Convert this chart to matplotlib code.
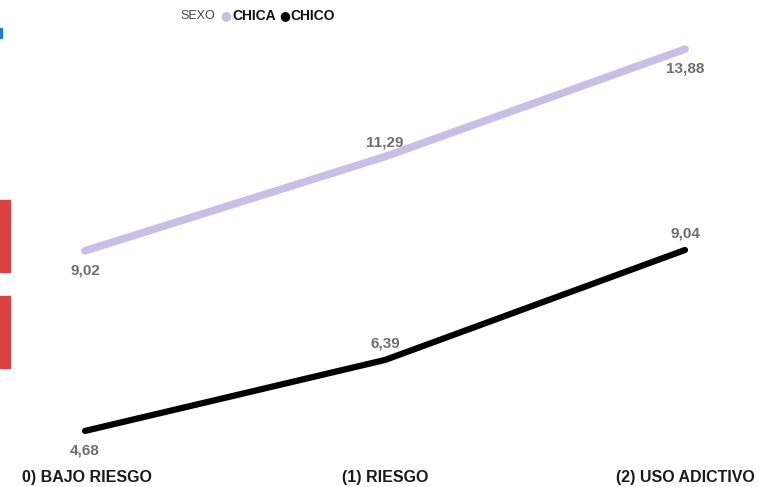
import matplotlib.pyplot as plt
from matplotlib.patches import Rectangle

categories = ['0) BAJO RIESGO', '(1) RIESGO', '(2) USO ADICTIVO']
chica = [9.02, 11.29, 13.88]
chico = [4.68, 6.39, 9.04]
chica_labels = ['9,02', '11,29', '13,88']
chico_labels = ['4,68', '6,39', '9,04']

W, H = 769, 487
plt.rcParams['font.family'] = ['Liberation Sans', 'DejaVu Sans']

fig = plt.figure(figsize=(W / 100, H / 100), dpi=100)
# axes in pixel terms: x 85..685 for the three points, y 40..455
ax = fig.add_axes([85 / W, 1 - 455 / H, 600 / W, 415 / H])
ax.set_xlim(0, 2)
ax.set_ylim(4.10, 14.10)
ax.axis('off')

x = list(range(len(categories)))
lav = '#c8bfe7'
ax.plot(x, chica, color=lav, lw=5.5, solid_capstyle='round', solid_joinstyle='round', clip_on=False)
ax.plot(x, chico, color='#000000', lw=4.5, solid_capstyle='round', solid_joinstyle='round', clip_on=False)

grey = '#6e6e6e'
# label offsets in points (below = negative)
chica_off = [-14, 10, -14]
chico_off = [-14, 12, 12]
for i in x:
    ax.annotate(chica_labels[i], (i, chica[i]), xytext=(0, chica_off[i]), textcoords='offset points',
                ha='center', va='center', fontsize=11, fontweight='bold', color=grey)
    ax.annotate(chico_labels[i], (i, chico[i]), xytext=(0, chico_off[i]), textcoords='offset points',
                ha='center', va='center', fontsize=11, fontweight='bold', color=grey)

# category labels
for i, c in enumerate(categories):
    ax.text(i + (0.008 if i == 0 else 0), -0.035, c, transform=ax.get_xaxis_transform(),
            ha='center', va='top', fontsize=11.5, fontweight='bold', color='#1a1a1a')

# legend at top, laid out piece by piece
ly = 1 - 16 / H
pieces = [
    ('SEXO', dict(fontsize=9, color='#444444'), 5),
    ('\u25CF', dict(fontsize=9, color=lav, family='DejaVu Sans'), 1),
    ('CHICA', dict(fontsize=10, fontweight='bold', color='#111111'), 3),
    ('\u25CF', dict(fontsize=9, color='#000000', family='DejaVu Sans'), 1),
    ('CHICO', dict(fontsize=10, fontweight='bold', color='#111111'), 0),
]
renderer = fig.canvas.get_renderer()
cur = 0.0
made = []
for txt, kw, gap in pieces:
    t = fig.text(0, ly, txt, va='center', ha='left', **kw)
    bb = t.get_window_extent(renderer)
    made.append((t, cur))
    cur += bb.width + gap
start = 258 - cur / 2
for t, off in made:
    t.set_x((start + off) / W)

# decorations on left edge
red = '#d9433f'
fig.patches.append(Rectangle((0, 1 - 272 / H), 10 / W, 72 / H, transform=fig.transFigure, color=red))
fig.patches.append(Rectangle((0, 1 - 368 / H), 10 / W, 72 / H, transform=fig.transFigure, color=red))
fig.patches.append(Rectangle((0, 1 - 38 / H), 2 / W, 10 / H, transform=fig.transFigure, color='#1f78d1'))

fig.savefig('out.png', dpi=100)
